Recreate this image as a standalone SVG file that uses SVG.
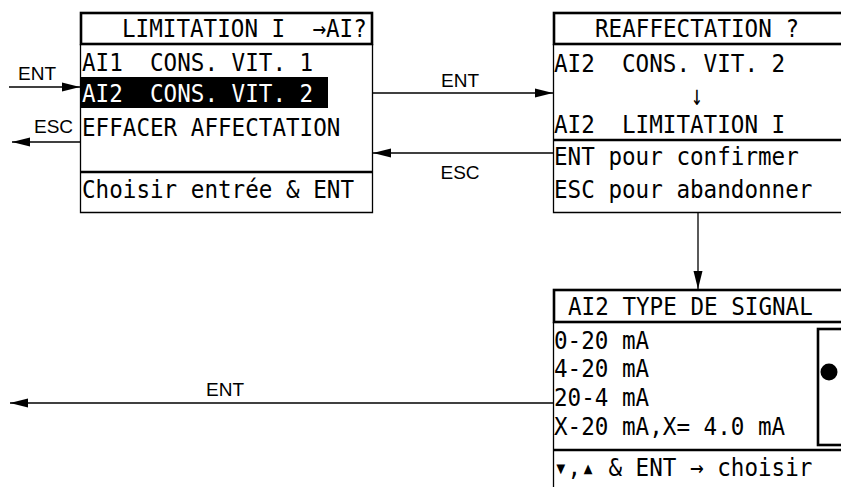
<svg xmlns="http://www.w3.org/2000/svg" width="841" height="487" viewBox="0 0 841 487">
<style>
.frame{fill:none;stroke:#000;stroke-width:1.3}
.bar{fill:none;stroke:#000;stroke-width:2.6}
.lcd{font-family:"DejaVu Sans Mono","Liberation Mono",monospace;font-size:22.6px;fill:#000;white-space:pre}
.inv{fill:#fff}
.lbl{font-family:"Liberation Sans",Arial,sans-serif;font-size:19px;fill:#000}
.mid{text-anchor:middle}
.conn{fill:none;stroke:#000;stroke-width:1.3}
</style>
<defs>
<marker id="ah" markerUnits="userSpaceOnUse" markerWidth="19" markerHeight="10" refX="18" refY="4.5" orient="auto" overflow="visible">
<path d="M0,0 L18,4.5 L0,9 Z" fill="#000"/>
</marker>
</defs>
<rect width="841" height="487" fill="#fff"/>

<g id="screen-limitation">
<path class="frame" d="M80.5,44 V212.5 H372.5 V44"/>
<rect class="bar" x="81" y="13" width="291" height="31"/>
<line class="bar" x1="80" y1="172" x2="373" y2="172"/>
<text class="lcd" transform="translate(122,37) scale(1,1.12)">LIMITATION I  →AI?</text>
<text class="lcd" transform="translate(82,71) scale(1,1.12)">AI1  CONS. VIT. 1</text>
<rect x="81" y="77" width="247" height="31" fill="#000"/>
<text class="lcd inv" transform="translate(82,102) scale(1,1.12)">AI2  CONS. VIT. 2</text>
<text class="lcd" transform="translate(82,136) scale(1,1.12)">EFFACER AFFECTATION</text>
<text class="lcd" transform="translate(82,198) scale(1,1.12)">Choisir entrée &amp; ENT</text>
</g>

<g id="screen-reaffectation">
<path class="frame" d="M553.5,44 V212.5 H845"/>
<rect class="bar" x="554" y="13" width="292" height="31"/>
<line class="bar" x1="553" y1="140" x2="845" y2="140"/>
<text class="lcd" transform="translate(595,37) scale(1,1.12)">REAFFECTATION ?</text>
<text class="lcd" transform="translate(554,72) scale(1,1.12)">AI2  CONS. VIT. 2</text>
<text class="lcd mid" transform="translate(697,105) scale(0.85,1.25)">↓</text>
<text class="lcd" transform="translate(554,133) scale(1,1.12)">AI2  LIMITATION I</text>
<text class="lcd" transform="translate(554,165) scale(1,1.12)">ENT pour confirmer</text>
<text class="lcd" transform="translate(554,198) scale(1,1.12)">ESC pour abandonner</text>
</g>

<g id="screen-signal">
<path class="frame" d="M553.5,322 V490"/>
<rect class="bar" x="554" y="290" width="292" height="32"/>
<line class="bar" x1="553" y1="450" x2="845" y2="450"/>
<rect class="bar" x="818" y="329" width="30" height="116"/>
<circle cx="829" cy="372" r="8.5" fill="#000"/>
<text class="lcd" transform="translate(568,315) scale(1,1.12)">AI2 TYPE DE SIGNAL</text>
<text class="lcd" transform="translate(554,349) scale(1,1.12)">0-20 mA</text>
<text class="lcd" transform="translate(554,377) scale(1,1.12)">4-20 mA</text>
<text class="lcd" transform="translate(554,406) scale(1,1.12)">20-4 mA</text>
<text class="lcd" transform="translate(554,435) scale(1,1.12)">X-20 mA,X= 4.0 mA</text>
<text class="lcd" transform="translate(554,476) scale(1,1.12)">▾,▴ &amp; ENT → choisir</text>
</g>

<g id="connectors">
<line class="conn" x1="9" y1="87" x2="80" y2="87" marker-end="url(#ah)"/>
<text class="lbl" x="18" y="80">ENT</text>
<line class="conn" x1="80" y1="142" x2="12" y2="142" marker-end="url(#ah)"/>
<text class="lbl" x="34" y="133">ESC</text>
<line class="conn" x1="373" y1="93" x2="553" y2="93" marker-end="url(#ah)"/>
<text class="lbl mid" x="460" y="87">ENT</text>
<line class="conn" x1="553" y1="153" x2="373" y2="153" marker-end="url(#ah)"/>
<text class="lbl mid" x="460" y="179">ESC</text>
<line class="conn" x1="698" y1="212" x2="698" y2="289" marker-end="url(#ah)"/>
<line class="conn" x1="553" y1="403" x2="10" y2="403" marker-end="url(#ah)"/>
<text class="lbl mid" x="225" y="396">ENT</text>
</g>
</svg>
